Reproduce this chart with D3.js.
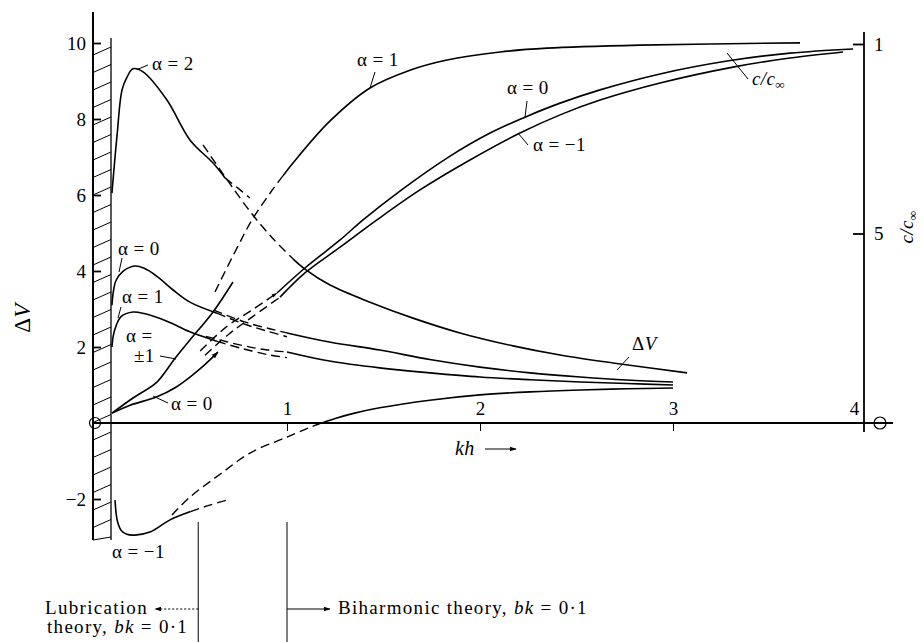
<!DOCTYPE html>
<html>
<head>
<meta charset="utf-8">
<script src="https://cdn.jsdelivr.net/npm/d3@7"></script>
<style>
  html, body { margin: 0; padding: 0; background: #fff; }
  svg { display: block; font-family: "Liberation Serif", "Times New Roman", serif; }
</style>
</head>
<body>
<svg id="chart" width="923" height="642"></svg>
<script>
// ---- ΔV curves: [kh, ΔV] ----
// lubrication theory (solid) and its dashed continuation
const dvA2Lub    = [[0.093,6.05],[0.12,7.6],[0.145,8.76],[0.171,9.1],[0.202,9.32],[0.254,9.24],[0.378,8.5],[0.497,7.45],[0.617,6.84],[0.679,6.45]];
const dvA2LubExt = [[0.679,6.45],[0.746,6.18],[0.808,5.92]];
const dvA0Lub    = [[0.093,3.1],[0.1,3.45],[0.114,3.75],[0.15,3.99],[0.212,4.13],[0.26,4.07],[0.326,3.86],[0.41,3.5],[0.497,3.18],[0.637,2.89]];
const dvA0LubExt = [[0.637,2.89],[0.78,2.6],[0.91,2.4],[1.0,2.27]];
const dvA1Lub    = [[0.093,2.0],[0.1,2.3],[0.114,2.55],[0.14,2.8],[0.202,2.92],[0.26,2.88],[0.378,2.68],[0.497,2.4],[0.637,2.15]];
const dvA1LubExt = [[0.637,2.15],[0.76,1.97],[0.9,1.8],[1.0,1.72]];
const dvAm1Lub   = [[0.109,-2.03],[0.114,-2.35],[0.122,-2.6],[0.14,-2.82],[0.17,-2.93],[0.212,-2.95],[0.29,-2.87],[0.394,-2.55],[0.5,-2.33]];
const dvAm1LubExt= [[0.5,-2.33],[0.6,-2.16],[0.689,-2.03]];
// biharmonic theory (solid) and its dashed continuation towards small kh
const dvA2BihExt = [[0.565,7.32],[0.694,6.37],[0.819,5.5],[0.933,4.82],[1.031,4.32]];
const dvA2Bih    = [[1.031,4.32],[1.093,4.05],[1.223,3.63],[1.43,3.18],[1.653,2.76],[1.896,2.37],[2.171,2.03],[2.415,1.79],[2.689,1.58],[3.073,1.32]];
const dvA0BihExt = [[0.62,2.97],[0.78,2.66],[0.91,2.48],[1.0,2.37]];
const dvA0Bih    = [[1.0,2.37],[1.22,2.13],[1.48,1.92],[1.74,1.67],[2.0,1.47],[2.26,1.32],[2.52,1.21],[2.76,1.13],[3.0,1.08]];
const dvA1BihExt = [[0.58,2.28],[0.76,2.05],[0.9,1.92],[1.0,1.87]];
const dvA1Bih    = [[1.0,1.87],[1.22,1.63],[1.48,1.45],[1.74,1.32],[2.0,1.21],[2.26,1.14],[2.52,1.08],[2.76,1.04],[3.0,1.0]];
const dvAm1BihExt= [[0.404,-2.42],[0.497,-1.95],[0.653,-1.35],[0.808,-0.79],[1.0,-0.37],[1.15,-0.05]];
const dvAm1Bih   = [[1.15,-0.05],[1.25,0.12],[1.35,0.26],[1.48,0.4],[1.74,0.6],[2.0,0.74],[2.26,0.82],[2.52,0.87],[2.76,0.9],[3.0,0.92]];

// ---- c/c∞ curves: [kh, c/c∞] ----
const ccLubPm1   = [[0.093,0.026],[0.202,0.066],[0.326,0.108],[0.42,0.171],[0.497,0.219],[0.617,0.293],[0.72,0.372]];
const ccLubA0    = [[0.093,0.026],[0.187,0.047],[0.326,0.069],[0.42,0.093],[0.497,0.121],[0.57,0.152],[0.642,0.187]];
const ccA1BihExt = [[0.627,0.346],[0.741,0.462],[0.819,0.536],[0.927,0.617],[0.979,0.652]];
const ccA1Bih    = [[0.979,0.652],[1.031,0.686],[1.223,0.797],[1.43,0.884],[1.637,0.931],[1.829,0.958],[2.104,0.979],[2.347,0.989],[2.829,0.997],[3.658,1.003]];
const ccA0BihExt = [[0.55,0.19],[0.689,0.255],[0.81,0.295],[0.948,0.343]];
const ccA0Bih    = [[0.948,0.343],[1.093,0.409],[1.275,0.483],[1.394,0.536],[1.585,0.612],[1.829,0.699],[2.052,0.765],[2.233,0.807],[2.415,0.844],[2.622,0.879],[2.933,0.921],[3.28,0.955],[3.606,0.976],[3.933,0.987]];
const ccAm1BihExt= [[0.575,0.179],[0.7,0.235],[0.82,0.28],[0.964,0.332]];
const ccAm1Bih   = [[0.964,0.332],[1.093,0.396],[1.275,0.464],[1.466,0.536],[1.689,0.615],[1.948,0.694],[2.207,0.765],[2.415,0.813],[2.622,0.852],[2.933,0.897],[3.311,0.939],[3.606,0.963],[3.881,0.979]];

// ---- axes ----
const leftTicks   = [-2, 2, 4, 6, 8, 10];
const bottomTicks = [1, 2, 3, 4];
const rightTicks  = [0.5, 1];
const rightTickLabels = ["5", "1"];
// validity limits of the two theories for bk = 0·1
const lubLimit = 0.54;
const bihLimit = 1.0;

const svg = d3.select("#chart");
const FONT = "Liberation Serif, Times New Roman, serif";
svg.append("rect").attr("width", 923).attr("height", 642).attr("fill", "#fff");

const x  = d3.scaleLinear().domain([0, 4]).range([94, 866]);
const yV = d3.scaleLinear().domain([0, 10]).range([423, 43]);
const yC = d3.scaleLinear().domain([0, 1]).range([423, 44]);

const defs = svg.append("defs");
defs.append("marker").attr("id", "head").attr("viewBox", "0 0 10 10")
  .attr("refX", 9).attr("refY", 5).attr("markerWidth", 7).attr("markerHeight", 7)
  .attr("markerUnits", "userSpaceOnUse").attr("orient", "auto")
  .append("path").attr("d", "M0,1.5 L10,5 L0,8.5 Z").attr("fill", "#000");
defs.append("marker").attr("id", "wedge").attr("viewBox", "0 0 10 10")
  .attr("refX", 9).attr("refY", 5).attr("markerWidth", 10).attr("markerHeight", 6)
  .attr("markerUnits", "userSpaceOnUse").attr("orient", "auto")
  .append("path").attr("d", "M0,2 L10,5 L0,8 Z").attr("fill", "#000");

// ---- wall (hatched) and left axis ----
const wall = svg.append("g").attr("stroke", "#000").attr("fill", "none");
for (let yy = 47; yy <= 540; yy += 17.5) {
  wall.append("line").attr("x1", 93).attr("y1", Math.min(yy + 8, 540)).attr("x2", 111).attr("y2", yy).attr("stroke-width", 1);
}
wall.append("line").attr("x1", 111).attr("y1", 38).attr("x2", 111).attr("y2", 540).attr("stroke-width", 1.3);
wall.append("line").attr("x1", 93).attr("y1", 12).attr("x2", 93).attr("y2", 540).attr("stroke-width", 2);

svg.append("g").attr("transform", "translate(93,0)")
  .call(d3.axisLeft(yV).tickValues(leftTicks).tickSize(-8).tickPadding(7)
    .tickFormat(d => d < 0 ? "\u2212" + (-d) : String(d)))
  .call(g => g.select(".domain").remove())
  .call(g => g.selectAll(".tick line").attr("stroke-width", 1.8))
  .attr("font-size", 19).attr("font-family", FONT);

// ---- kh axis ----
svg.append("line").attr("x1", 93).attr("y1", yV(0)).attr("x2", 893).attr("y2", yV(0))
  .attr("stroke", "#000").attr("stroke-width", 1.8);
svg.append("g").attr("transform", `translate(0,${yV(0)})`)
  .call(d3.axisTop(x).tickValues(bottomTicks).tickSize(-8).tickPadding(8).tickFormat(d3.format("d")))
  .call(g => g.select(".domain").remove())
  .call(g => g.selectAll(".tick").filter(d => d === 4).select("line").remove())
  .call(g => g.selectAll(".tick").filter(d => d === 4).select("text").attr("dx", -12))
  .attr("font-size", 19).attr("font-family", FONT);

// ---- c/c∞ axis on the right ----
svg.append("line").attr("x1", 864).attr("y1", 32).attr("x2", 864).attr("y2", 432)
  .attr("stroke", "#000").attr("stroke-width", 1.8);
svg.append("g").attr("transform", "translate(864,0)")
  .call(d3.axisRight(yC).tickValues(rightTicks).tickSize(-11).tickPadding(10)
    .tickFormat((d, i) => rightTickLabels[i]))
  .call(g => g.select(".domain").remove())
  .call(g => g.selectAll(".tick line").attr("stroke-width", 1.8))
  .attr("font-size", 19).attr("font-family", FONT);

// zero marks
svg.append("circle").attr("cx", x(0) + 1).attr("cy", yV(0)).attr("r", 5.5)
  .attr("fill", "none").attr("stroke", "#000").attr("stroke-width", 1.2);
svg.append("circle").attr("cx", 880).attr("cy", yC(0)).attr("r", 6)
  .attr("fill", "none").attr("stroke", "#000").attr("stroke-width", 1.2);

// ---- curves ----
const smooth = d3.curveCatmullRom.alpha(0.5);
const lineV = d3.line().x(d => x(d[0])).y(d => yV(d[1])).curve(smooth);
const lineC = d3.line().x(d => x(d[0])).y(d => yC(d[1])).curve(smooth);
const curves = svg.append("g").attr("fill", "none").attr("stroke", "#000");

function draw(gen, data, dashed, marker) {
  const p = curves.append("path").attr("d", gen(data))
    .attr("stroke-width", dashed ? 1.4 : 1.6);
  if (dashed) p.attr("stroke-dasharray", "9,5");
  if (marker) p.attr("marker-end", `url(#${marker})`);
  return p;
}

[dvA2Lub, dvA0Lub, dvA1Lub, dvAm1Lub, dvA2Bih, dvA0Bih, dvA1Bih, dvAm1Bih].forEach(d => draw(lineV, d, false));
[dvA2LubExt, dvA0LubExt, dvA1LubExt, dvAm1LubExt, dvA2BihExt, dvA0BihExt, dvA1BihExt, dvAm1BihExt].forEach(d => draw(lineV, d, true));

draw(lineC, ccLubPm1, false);
draw(lineC, ccLubA0, false, "head");
[ccA1Bih, ccA0Bih, ccAm1Bih].forEach(d => draw(lineC, d, false));
draw(lineC, ccA1BihExt, true);
draw(lineC, ccA0BihExt, true, "wedge");
draw(lineC, ccAm1BihExt, true);

// ---- annotations ----
const ann = svg.append("g").attr("font-family", FONT).attr("font-size", 19)
  .attr("letter-spacing", 0.4).attr("fill", "#000");
const lead = svg.append("g").attr("stroke", "#000").attr("stroke-width", 1);

function label(txt, tx, ty, l) {
  ann.append("text").attr("x", tx).attr("y", ty).text(txt);
  if (l) lead.append("line").attr("x1", l[0]).attr("y1", l[1]).attr("x2", l[2]).attr("y2", l[3]);
}

label("\u03b1 = 2", 152, 70, [148, 65, x(0.222), yV(9.3)]);
label("\u03b1 = 1", 357, 66, [375, 72, x(1.43), yC(0.884)]);
label("\u03b1 = 0", 507, 94, [527, 101, 525, yC(0.807)]);
label("\u03b1 = \u22121", 533, 151, [528, 145, 518, yC(0.765)]);
label("\u03b1 = 0", 118, 255, [122, 258, 119, 272]);
label("\u03b1 = 1", 122, 303, [121, 307, 118, 318]);
label("\u03b1 =", 126, 342);
label("\u00b11", 134, 362, [160, 356, 176, 359]);
label("\u03b1 = 0", 171, 410, [153, 396, 168, 403]);
label("\u03b1 = \u22121", 112, 558);

// c/c∞ label near the upper right curves
const ccl = ann.append("text").attr("x", 752).attr("y", 85).attr("font-style", "italic");
ccl.append("tspan").text("c/c");
ccl.append("tspan").attr("font-size", 13).attr("dy", 4).text("\u221e");
lead.append("line").attr("x1", 727).attr("y1", 53).attr("x2", 748).attr("y2", 79);

// ΔV label near the curves
const dvl = ann.append("text").attr("x", 632).attr("y", 350);
dvl.append("tspan").text("\u0394");
dvl.append("tspan").attr("font-style", "italic").text("V");
lead.append("line").attr("x1", 617).attr("y1", 370).attr("x2", 629).attr("y2", 357);

// axis titles
const yt = ann.append("text").attr("transform", "translate(30,318) rotate(-90)")
  .attr("text-anchor", "middle").attr("font-size", 23);
yt.append("tspan").text("\u0394");
yt.append("tspan").attr("font-style", "italic").text("V");

const rt = ann.append("text").attr("transform", "translate(913,227) rotate(-90)")
  .attr("text-anchor", "middle").attr("font-size", 19).attr("font-style", "italic");
rt.append("tspan").text("c/c");
rt.append("tspan").attr("font-size", 13).attr("dy", 4).text("\u221e");

ann.append("text").attr("x", 455).attr("y", 455).attr("font-style", "italic").attr("font-size", 20).text("kh");
lead.append("line").attr("x1", 485).attr("y1", 449).attr("x2", 516).attr("y2", 449)
  .attr("marker-end", "url(#head)");

// ---- limits of validity of the theories ----
const lim = svg.append("g").attr("stroke", "#000").attr("stroke-width", 1);
lim.append("line").attr("x1", x(lubLimit)).attr("y1", 522).attr("x2", x(lubLimit)).attr("y2", 642);
lim.append("line").attr("x1", x(bihLimit)).attr("y1", 522).attr("x2", x(bihLimit)).attr("y2", 642);
lim.append("line").attr("x1", x(lubLimit)).attr("y1", 609).attr("x2", 155).attr("y2", 609)
  .attr("stroke-dasharray", "2,2").attr("marker-end", "url(#head)");
lim.append("line").attr("x1", x(bihLimit)).attr("y1", 609).attr("x2", 330).attr("y2", 609)
  .attr("marker-end", "url(#head)");

const foot = svg.append("g").attr("font-family", FONT).attr("font-size", 19)
  .attr("letter-spacing", 1.3).attr("fill", "#000");
foot.append("text").attr("x", 45).attr("y", 614).text("Lubrication");
const t2 = foot.append("text").attr("x", 47).attr("y", 633);
t2.append("tspan").text("theory, ");
t2.append("tspan").attr("font-style", "italic").text("bk");
t2.append("tspan").text(" = 0\u00b71");
const t3 = foot.append("text").attr("x", 338).attr("y", 614);
t3.append("tspan").text("Biharmonic theory, ");
t3.append("tspan").attr("font-style", "italic").text("bk");
t3.append("tspan").text(" = 0\u00b71");
</script>
</body>
</html>
